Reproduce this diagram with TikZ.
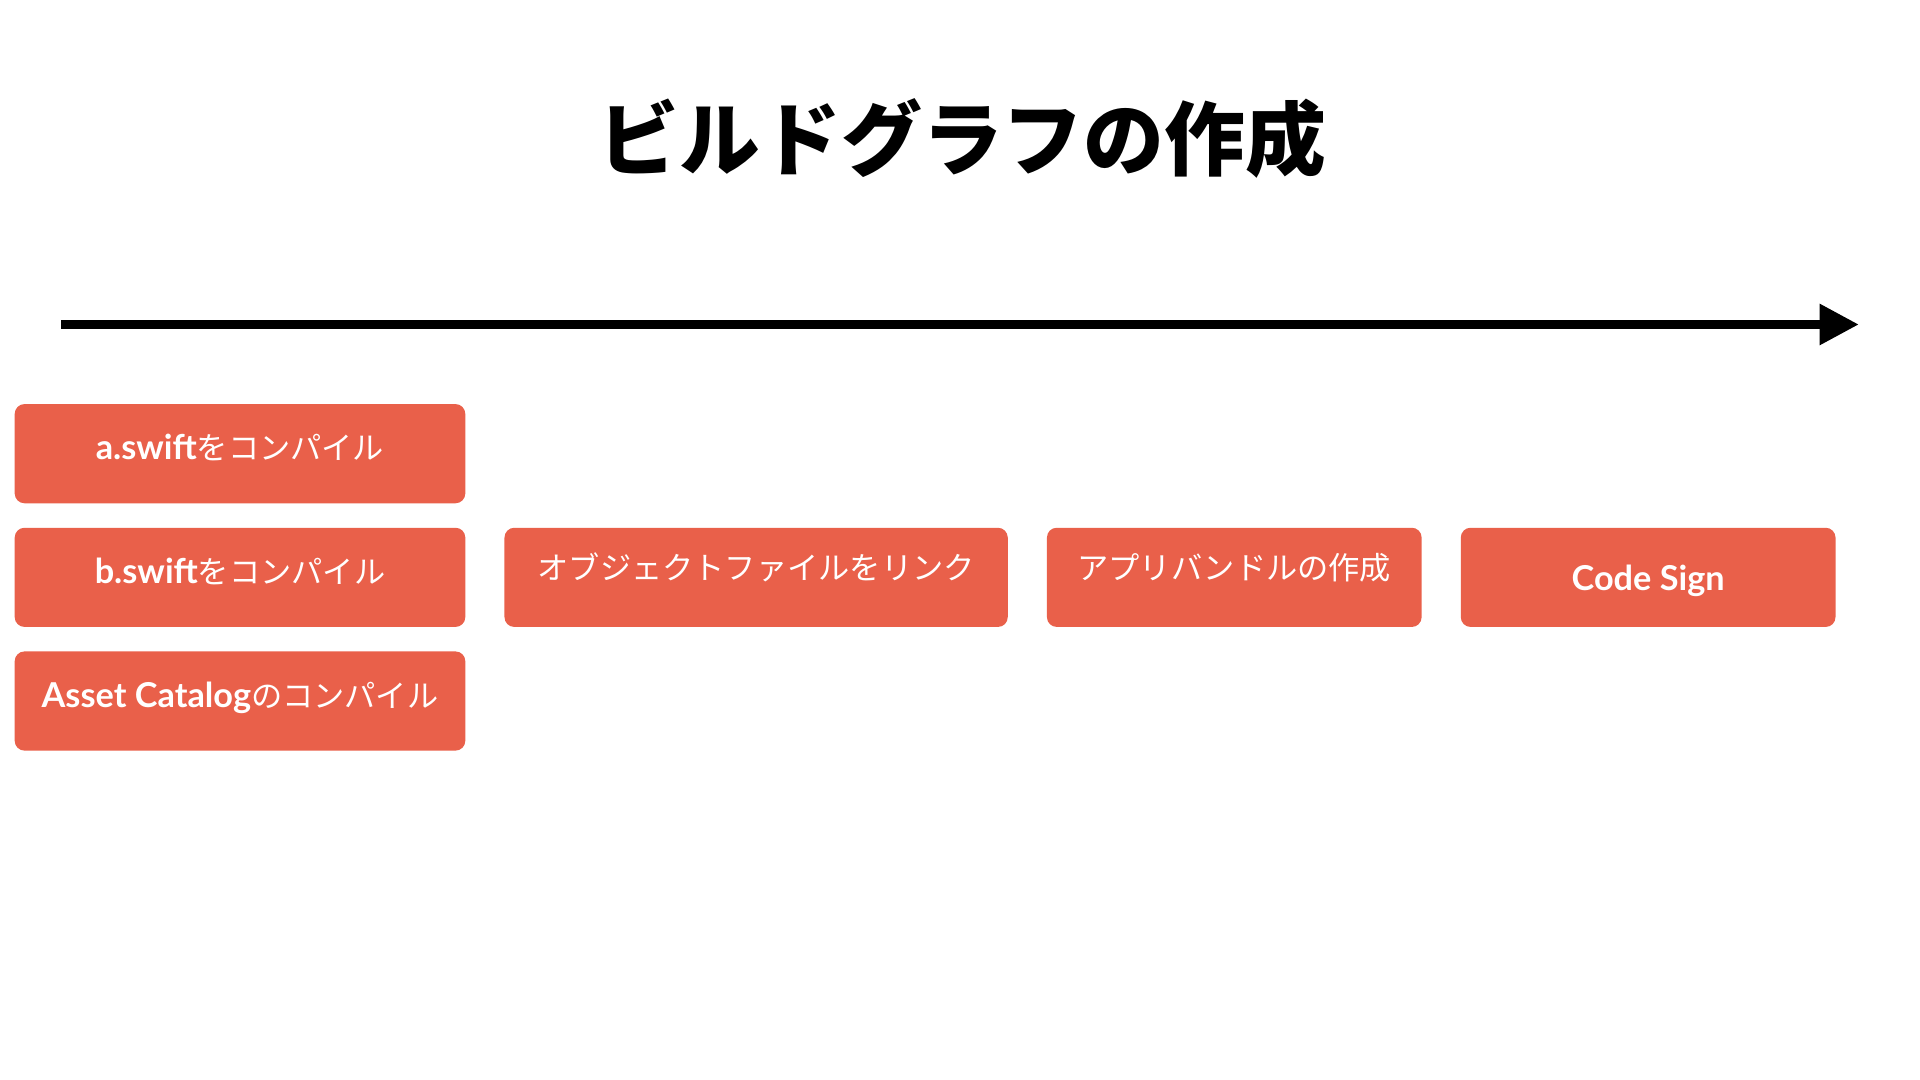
\documentclass[tikz,border=0pt]{standalone}
\usepackage{fontspec}
\setmainfont{Lato}
\newfontfamily\jpfont{Noto Sans CJK JP}
\newfontfamily\enfont{Lato}
\usetikzlibrary{arrows.meta}
\definecolor{taskred}{HTML}{E9604A}
\newcommand\en[1]{{\enfont\bfseries\fontsize{28}{30}\selectfont #1}}

\begin{document}
\begin{tikzpicture}[
    x=1pt,y=-1pt,
    title/.style={font=\jpfont\bfseries\fontsize{66}{70}\selectfont},
    timeline/.style={line width=7pt,-{Triangle[length=32pt,width=32pt]}},
    task/.style={rectangle,rounded corners=8pt,fill=taskred,text=white,inner sep=0pt,outer sep=0pt,minimum height=81pt,font=\jpfont\fontsize{25.5}{30}\selectfont,text height=18pt,text depth=8pt},
    raised/.style={text height=12pt,text depth=8pt},
    latin/.style={text height=25pt,text depth=3pt},
    first/.style={minimum width=368pt},
]
\useasboundingbox (0,0) rectangle (1568,882);

\node[title] (title) at (786,113) {ビルドグラフの作成};

\coordinate (t0) at (50,265);
\coordinate (t1) at (1518,265);
\draw[timeline] (t0) -- (t1);

\matrix (graph) [column sep=32pt,row sep=20pt,inner sep=0pt,outer sep=0pt,anchor=north west] at (12,330) {
    \node[task,first] (swiftA) {\en{a.swift}をコンパイル}; & & & \\
    \node[task,first] (swiftB) {\en{b.swift}をコンパイル}; &
    \node[task,raised,minimum width=411pt] (link) {オブジェクトファイルをリンク}; &
    \node[task,raised,minimum width=306pt] (bundle) {アプリバンドルの作成}; &
    \node[task,latin,minimum width=306pt] (sign) {\en{Code Sign}}; \\
    \node[task,first] (assets) {\en{Asset Catalog}のコンパイル}; & & & \\
};
\end{tikzpicture}
\end{document}
